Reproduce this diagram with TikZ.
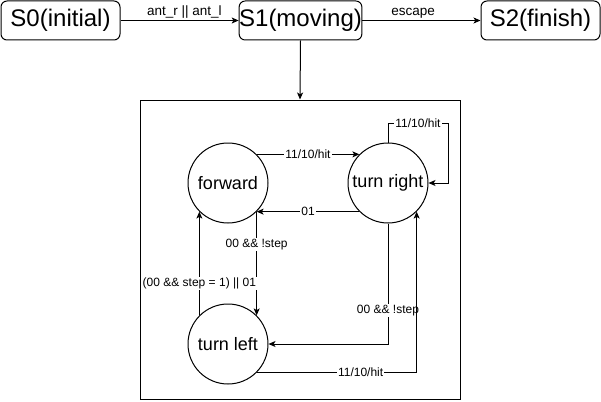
\documentclass[tikz,border=0pt]{standalone}
\usepackage{fontspec}
\setmainfont{Liberation Sans}
\usetikzlibrary{arrows.meta}
\begin{document}
\begin{tikzpicture}[x=1pt,y=-1pt,
  every path/.style={line width=1pt},
  arr/.style={draw, -{Stealth[length=7pt,width=6pt,inset=1.8pt]}},
  statebox/.style={draw, rounded corners=6pt, minimum width=119pt, minimum height=39pt, inner sep=0pt, font=\fontsize{24}{28}\selectfont},
  circstate/.style={draw, circle, minimum size=80pt, inner sep=0pt, font=\fontsize{18}{22}\selectfont},
  toplbl/.style={font=\fontsize{13.5}{16}\selectfont, inner sep=1pt},
  lbl/.style={fill=white, font=\fontsize{12}{14}\selectfont, inner sep=1pt}]
\useasboundingbox (0,0) rectangle (601,401);
\node[statebox] (s0) at (60.5,20.5) {S0(initial)};
\node[statebox] (s1) at (300.5,20.5) {S1(moving)};
\node[statebox] (s2) at (540.5,20.5) {S2(finish)};
\node[draw, minimum width=320pt, minimum height=299pt, inner sep=0pt] (box) at (300,249.5) {};
\node[circstate] (fw) at (228,183) {forward};
\node[circstate] (tr) at (388,183) {turn right};
\node[circstate] (tl) at (228,344) {turn left};
\coordinate (lp) at (448,123);

\draw[arr] (s0) -- node[toplbl, above=1pt, pos=0.54]{ant\_r || ant\_l} (s1);
\draw[arr] (s1) -- node[toplbl, above=1pt, pos=0.43]{escape} (s2);
\draw[arr] (s1.south) -- (box.north);

\draw[arr] (fw.45) -- node[lbl]{11/10/hit} (tr.135);
\draw[arr] (tr.-135) -- node[lbl]{01} (fw.-45);
\draw[arr] (fw.-45) -- node[lbl, pos=0.32]{00 \&\& !step} (tl.45);
\draw[arr] (tl.135) -- node[lbl, pos=0.31]{(00 \&\& step = 1) || 01} (fw.-135);
\draw[arr] (tr.north) |- node[lbl, pos=0.75]{11/10/hit} (lp) |- (tr.east);
\draw[arr] (tr.south) |- node[lbl, pos=0.36]{00 \&\& !step} (tl.east);
\draw[arr] (tl.-45) -| node[lbl, pos=0.325]{11/10/hit} (tr.-45);
\end{tikzpicture}
\end{document}
